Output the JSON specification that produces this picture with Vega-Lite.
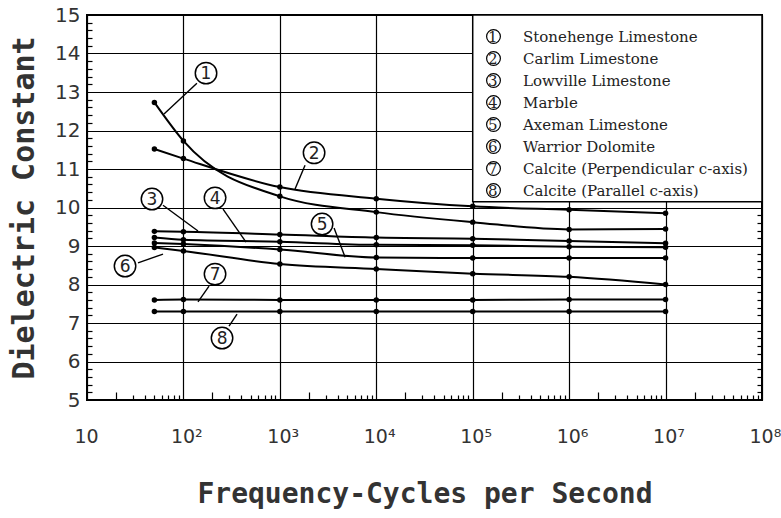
{
  "$schema": "https://vega.github.io/schema/vega-lite/v6.json",
  "width": 675,
  "height": 385,
  "autosize": {"type": "none"},
  "padding": {"left": 87, "top": 15, "right": 19, "bottom": 118},
  "background": "white",
  "config": {
    "view": {"stroke": "black", "strokeWidth": 2},
    "axis": {"domain": false, "gridColor": "black", "gridWidth": 1.2, "tickColor": "black", "tickWidth": 1.2, "labelColor": "#333", "titleColor": "#333"}
  },
  "datasets": {
    "measurements": [
      {"num": 1, "material": "Stonehenge Limestone", "freq": 50, "eps": 12.73},
      {"num": 1, "material": "Stonehenge Limestone", "freq": 100, "eps": 11.73},
      {"num": 1, "material": "Stonehenge Limestone", "freq": 1000, "eps": 10.29},
      {"num": 1, "material": "Stonehenge Limestone", "freq": 10000, "eps": 9.88},
      {"num": 1, "material": "Stonehenge Limestone", "freq": 100000, "eps": 9.62},
      {"num": 1, "material": "Stonehenge Limestone", "freq": 1000000, "eps": 9.43},
      {"num": 1, "material": "Stonehenge Limestone", "freq": 10000000, "eps": 9.44},
      {"num": 2, "material": "Carlim Limestone", "freq": 50, "eps": 11.52},
      {"num": 2, "material": "Carlim Limestone", "freq": 100, "eps": 11.27},
      {"num": 2, "material": "Carlim Limestone", "freq": 1000, "eps": 10.53},
      {"num": 2, "material": "Carlim Limestone", "freq": 10000, "eps": 10.23},
      {"num": 2, "material": "Carlim Limestone", "freq": 100000, "eps": 10.03},
      {"num": 2, "material": "Carlim Limestone", "freq": 1000000, "eps": 9.94},
      {"num": 2, "material": "Carlim Limestone", "freq": 10000000, "eps": 9.85},
      {"num": 3, "material": "Lowville Limestone", "freq": 50, "eps": 9.38},
      {"num": 3, "material": "Lowville Limestone", "freq": 100, "eps": 9.37},
      {"num": 3, "material": "Lowville Limestone", "freq": 1000, "eps": 9.30},
      {"num": 3, "material": "Lowville Limestone", "freq": 10000, "eps": 9.22},
      {"num": 3, "material": "Lowville Limestone", "freq": 100000, "eps": 9.19},
      {"num": 3, "material": "Lowville Limestone", "freq": 1000000, "eps": 9.13},
      {"num": 3, "material": "Lowville Limestone", "freq": 10000000, "eps": 9.07},
      {"num": 4, "material": "Marble", "freq": 50, "eps": 9.22},
      {"num": 4, "material": "Marble", "freq": 100, "eps": 9.16},
      {"num": 4, "material": "Marble", "freq": 1000, "eps": 9.11},
      {"num": 4, "material": "Marble", "freq": 10000, "eps": 9.03},
      {"num": 4, "material": "Marble", "freq": 100000, "eps": 9.02},
      {"num": 4, "material": "Marble", "freq": 1000000, "eps": 8.98},
      {"num": 4, "material": "Marble", "freq": 10000000, "eps": 8.97},
      {"num": 5, "material": "Axeman Limestone", "freq": 50, "eps": 9.08},
      {"num": 5, "material": "Axeman Limestone", "freq": 100, "eps": 9.05},
      {"num": 5, "material": "Axeman Limestone", "freq": 1000, "eps": 8.91},
      {"num": 5, "material": "Axeman Limestone", "freq": 10000, "eps": 8.70},
      {"num": 5, "material": "Axeman Limestone", "freq": 100000, "eps": 8.69},
      {"num": 5, "material": "Axeman Limestone", "freq": 1000000, "eps": 8.69},
      {"num": 5, "material": "Axeman Limestone", "freq": 10000000, "eps": 8.69},
      {"num": 6, "material": "Warrior Dolomite", "freq": 50, "eps": 8.96},
      {"num": 6, "material": "Warrior Dolomite", "freq": 100, "eps": 8.87},
      {"num": 6, "material": "Warrior Dolomite", "freq": 1000, "eps": 8.53},
      {"num": 6, "material": "Warrior Dolomite", "freq": 10000, "eps": 8.40},
      {"num": 6, "material": "Warrior Dolomite", "freq": 100000, "eps": 8.28},
      {"num": 6, "material": "Warrior Dolomite", "freq": 1000000, "eps": 8.20},
      {"num": 6, "material": "Warrior Dolomite", "freq": 10000000, "eps": 8.00},
      {"num": 7, "material": "Calcite (Perpendicular c-axis)", "freq": 50, "eps": 7.60},
      {"num": 7, "material": "Calcite (Perpendicular c-axis)", "freq": 100, "eps": 7.61},
      {"num": 7, "material": "Calcite (Perpendicular c-axis)", "freq": 1000, "eps": 7.60},
      {"num": 7, "material": "Calcite (Perpendicular c-axis)", "freq": 10000, "eps": 7.60},
      {"num": 7, "material": "Calcite (Perpendicular c-axis)", "freq": 100000, "eps": 7.60},
      {"num": 7, "material": "Calcite (Perpendicular c-axis)", "freq": 1000000, "eps": 7.61},
      {"num": 7, "material": "Calcite (Perpendicular c-axis)", "freq": 10000000, "eps": 7.61},
      {"num": 8, "material": "Calcite (Parallel c-axis)", "freq": 50, "eps": 7.30},
      {"num": 8, "material": "Calcite (Parallel c-axis)", "freq": 100, "eps": 7.30},
      {"num": 8, "material": "Calcite (Parallel c-axis)", "freq": 1000, "eps": 7.30},
      {"num": 8, "material": "Calcite (Parallel c-axis)", "freq": 10000, "eps": 7.30},
      {"num": 8, "material": "Calcite (Parallel c-axis)", "freq": 100000, "eps": 7.30},
      {"num": 8, "material": "Calcite (Parallel c-axis)", "freq": 1000000, "eps": 7.30},
      {"num": 8, "material": "Calcite (Parallel c-axis)", "freq": 10000000, "eps": 7.30}
    ],
    "callouts": [
      {"n": "1", "cx": 171.5, "cy": 13.49, "sx": 138, "sy": 13.23, "tx": 62.9, "ty": 12.43},
      {"n": "2", "cx": 2264, "cy": 11.42, "sx": 1825, "sy": 11.10, "tx": 1437, "ty": 10.48},
      {"n": "3", "cx": 47.2, "cy": 10.22, "sx": 61.4, "sy": 10.06, "tx": 141.6, "ty": 9.39},
      {"n": "4", "cx": 212.7, "cy": 10.25, "sx": 257.5, "sy": 9.96, "tx": 445.9, "ty": 9.10},
      {"n": "5", "cx": 2741, "cy": 9.57, "sx": 3649, "sy": 9.47, "tx": 4747, "ty": 8.71},
      {"n": "6", "cx": 24.8, "cy": 8.48, "sx": 33.8, "sy": 8.56, "tx": 61.4, "ty": 8.79},
      {"n": "7", "cx": 212.7, "cy": 8.27, "sx": 184.3, "sy": 7.96, "tx": 141.6, "ty": 7.55},
      {"n": "8", "cx": 251.4, "cy": 6.61, "sx": 297.2, "sy": 6.92, "tx": 359.7, "ty": 7.23}
    ]
  },
  "layer": [
    {
      "data": {"name": "measurements"},
      "mark": {"type": "line", "interpolate": "monotone", "strokeWidth": 2},
      "encoding": {
        "x": {
          "field": "freq", "type": "quantitative",
          "scale": {"type": "log", "domain": [10, 100000000], "nice": false},
          "axis": {
            "title": "Frequency-Cycles per Second",
            "values": [10,20,30,40,50,60,70,80,90,100,200,300,400,500,600,700,800,900,1000,2000,3000,4000,5000,6000,7000,8000,9000,10000,20000,30000,40000,50000,60000,70000,80000,90000,100000,200000,300000,400000,500000,600000,700000,800000,900000,1000000,2000000,3000000,4000000,5000000,6000000,7000000,8000000,9000000,10000000,20000000,30000000,40000000,50000000,60000000,70000000,80000000,90000000,100000000],
            "grid": true,
            "gridOpacity": {"condition": {"test": "abs(log(datum.value)/LN10 - round(log(datum.value)/LN10)) > 0.001", "value": 0}, "value": 1},
            "tickSize": {"condition": [
              {"test": "abs(log(datum.value)/LN10 - round(log(datum.value)/LN10)) < 0.001", "value": 0},
              {"test": "abs(log(datum.value/2)/LN10 - round(log(datum.value/2)/LN10)) < 0.001", "value": -8}
            ], "value": -5},
            "labelExpr": "abs(log(datum.value)/LN10 - round(log(datum.value)/LN10)) > 0.001 ? '' : (datum.value == 10 ? '10' : '10' + ['','','²','³','⁴','⁵','⁶','⁷','⁸'][round(log(datum.value)/LN10)])",
            "labelFont": "DejaVu Sans",
            "labelFontSize": 19,
            "labelAlign": "left",
            "labelOffset": -13,
            "labelBaseline": "top",
            "labelPadding": 27,
            "labelFlush": false,
            "labelOverlap": false,
            "titleFont": "DejaVu Sans Mono",
            "titleFontSize": 28,
            "titleFontWeight": "bold",
            "titlePadding": 34
          }
        },
        "y": {
          "field": "eps", "type": "quantitative",
          "scale": {"domain": [5, 15], "zero": false, "nice": false},
          "axis": {
            "title": "Dielectric Constant",
            "values": [5,5.2,5.4,5.6,5.8,6,6.2,6.4,6.6,6.8,7,7.2,7.4,7.6,7.8,8,8.2,8.4,8.6,8.8,9,9.2,9.4,9.6,9.8,10,10.2,10.4,10.6,10.8,11,11.2,11.4,11.6,11.8,12,12.2,12.4,12.6,12.8,13,13.2,13.4,13.6,13.8,14,14.2,14.4,14.6,14.8,15],
            "grid": true,
            "gridOpacity": {"condition": {"test": "abs(datum.value - round(datum.value)) > 0.01", "value": 0}, "value": 1},
            "tickSize": {"condition": {"test": "abs(datum.value - round(datum.value)) > 0.01", "value": -5}, "value": 0},
            "labelExpr": "abs(datum.value - round(datum.value)) > 0.01 ? '' : format(datum.value, 'd')",
            "labelFont": "DejaVu Sans",
            "labelFontSize": 20,
            "labelPadding": 7,
            "labelOverlap": false,
            "labelFlush": false,
            "titleFont": "DejaVu Sans Mono",
            "titleFontSize": 30,
            "titleFontWeight": "bold",
            "titlePadding": 15
          }
        },
        "color": {
          "field": "material", "type": "nominal",
          "scale": {
            "domain": ["Stonehenge Limestone", "Carlim Limestone", "Lowville Limestone", "Marble", "Axeman Limestone", "Warrior Dolomite", "Calcite (Perpendicular c-axis)", "Calcite (Parallel c-axis)"],
            "range": ["black", "black", "black", "black", "black", "black", "black", "black"]
          },
          "legend": {
            "orient": "top-right",
            "offset": 0,
            "title": null,
            "labelExpr": "(indexof(['Stonehenge Limestone','Carlim Limestone','Lowville Limestone','Marble','Axeman Limestone','Warrior Dolomite','Calcite (Perpendicular c-axis)','Calcite (Parallel c-axis)'], datum.label) + 1) + '\u2003\u2002\u2009' + datum.label",
            "symbolType": "circle",
            "symbolSize": 190,
            "symbolStrokeWidth": 1.2,
            "symbolStrokeColor": "black",
            "symbolFillColor": "transparent",
            "symbolOpacity": 1,
            "labelFont": "DejaVu Serif",
            "labelFontSize": 15,
            "labelColor": "#222",
            "labelLimit": 400,
            "labelOffset": -13,
            "rowPadding": 3,
            "padding": 14
          }
        }
      }
    },
    {
      "data": {"values": [{}]},
      "mark": {"type": "rect", "fill": "white", "stroke": "black", "strokeWidth": 1.5},
      "encoding": {
        "x": {"datum": 100000, "type": "quantitative", "axis": null},
        "x2": {"datum": 100000000},
        "y": {"datum": 10.15, "type": "quantitative", "axis": null},
        "y2": {"datum": 15}
      }
    },
    {
      "data": {"name": "measurements"},
      "mark": {"type": "circle", "size": 30, "color": "black", "opacity": 1},
      "encoding": {
        "x": {"field": "freq", "type": "quantitative", "axis": null},
        "y": {
          "field": "eps", "type": "quantitative",
          "axis": {
            "orient": "right",
            "title": null,
            "labels": false,
            "grid": false,
            "tickSize": -5,
            "values": [5.2,5.4,5.6,5.8,6.2,6.4,6.6,6.8,7.2,7.4,7.6,7.8,8.2,8.4,8.6,8.8,9.2,9.4,9.6,9.8,10.2,10.4,10.6,10.8,11.2,11.4,11.6,11.8,12.2,12.4,12.6,12.8,13.2,13.4,13.6,13.8,14.2,14.4,14.6,14.8]
          }
        }
      }
    },
    {
      "data": {"name": "callouts"},
      "mark": {"type": "rule", "strokeWidth": 1.4, "color": "black"},
      "encoding": {
        "x": {"field": "sx", "type": "quantitative", "axis": null},
        "y": {"field": "sy", "type": "quantitative", "axis": null},
        "x2": {"field": "tx"},
        "y2": {"field": "ty"}
      }
    },
    {
      "data": {"name": "callouts"},
      "mark": {"type": "point", "shape": "circle", "size": 460, "fill": "white", "fillOpacity": 1, "stroke": "black", "strokeWidth": 1.5, "opacity": 1},
      "encoding": {
        "x": {"field": "cx", "type": "quantitative", "axis": null},
        "y": {"field": "cy", "type": "quantitative", "axis": null}
      }
    },
    {
      "data": {"name": "callouts"},
      "mark": {"type": "text", "font": "DejaVu Sans", "fontSize": 17, "align": "center", "baseline": "middle", "color": "#222", "dy": 1},
      "encoding": {
        "x": {"field": "cx", "type": "quantitative", "axis": null},
        "y": {"field": "cy", "type": "quantitative", "axis": null},
        "text": {"field": "n"}
      }
    }
  ],
  "resolve": {"axis": {"x": "independent", "y": "independent"}}
}
